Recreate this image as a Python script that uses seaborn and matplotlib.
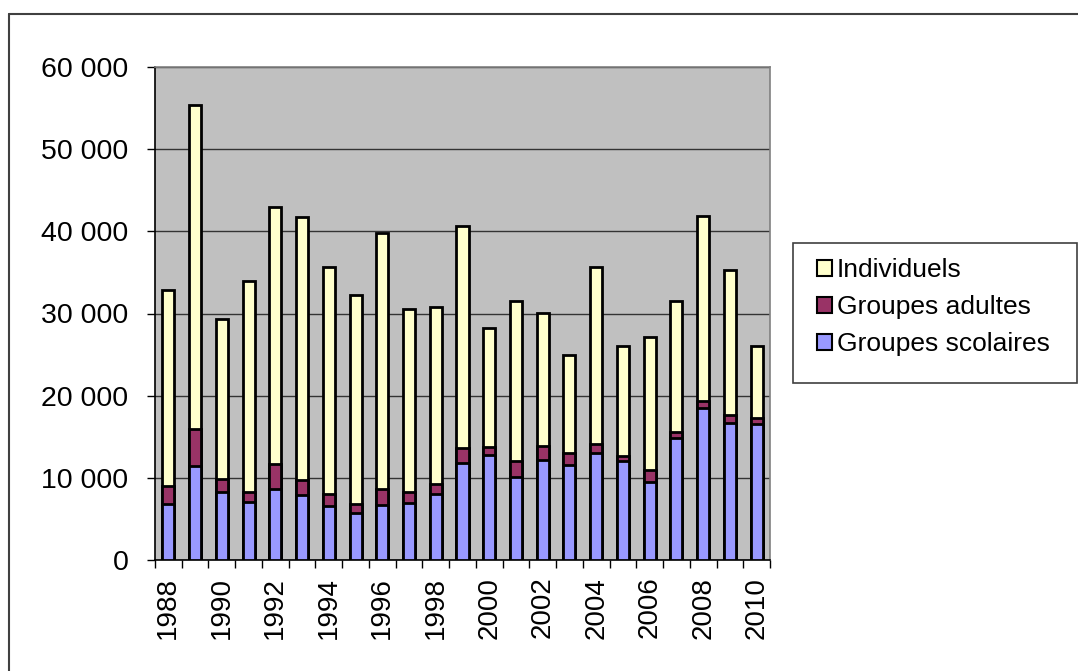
import seaborn as sns
import matplotlib.pyplot as plt
import matplotlib.ticker as mticker
import numpy as np
import pandas as pd

years = [str(y) for y in range(1988, 2011)]

scolaires = [6800, 11400, 8300, 7000, 8700, 7900, 6600, 5700, 6700, 6900, 8000, 11800,
             12800, 10100, 12200, 11600, 13000, 12000, 9500, 14800, 18500, 16700, 16600]
adultes = [2200, 4600, 1600, 1300, 3000, 1800, 1400, 1100, 1900, 1400, 1200, 1800,
           900, 1900, 1700, 1400, 1100, 600, 1500, 800, 800, 1000, 700]
individuels = [23900, 39400, 19400, 25700, 31300, 32100, 27600, 25500, 31200, 22200, 21600, 27100,
               14500, 19500, 16200, 12000, 21600, 13500, 16200, 15900, 22600, 17600, 8700]

df = pd.DataFrame({'annee': years, 'scolaires': scolaires,
                   'adultes': adultes, 'individuels': individuels})
df['cum_adultes'] = df['scolaires'] + df['adultes']
df['cum_total'] = df['cum_adultes'] + df['individuels']

sns.set_style('ticks')
plt.rcParams['font.family'] = ['Liberation Sans', 'DejaVu Sans']
plt.rcParams['text.color'] = 'black'
plt.rcParams['xtick.color'] = 'black'
plt.rcParams['ytick.color'] = 'black'

fig = plt.figure(figsize=(10.78, 6.71), dpi=100)
ax = fig.add_axes([155 / 1078, 1 - 560 / 671, 615 / 1078, 493 / 671])
ax.set_facecolor('#C0C0C0')

bar_kw = dict(edgecolor='black', linewidth=2, width=0.45, ax=ax, zorder=3, order=years)
sns.barplot(data=df, x='annee', y='cum_total', color='#FFFFCC', label='Individuels', **bar_kw)
sns.barplot(data=df, x='annee', y='cum_adultes', color='#993366', label='Groupes adultes', **bar_kw)
sns.barplot(data=df, x='annee', y='scolaires', color='#9999FF', label='Groupes scolaires', **bar_kw)
if ax.get_legend() is not None:
    ax.get_legend().remove()

# seaborn desaturates the fill a bit, put the exact colours back
for cont, col in zip(ax.containers, ['#FFFFCC', '#993366', '#9999FF']):
    for p in cont:
        p.set_facecolor(col)

ax.set_ylim(0, 60000)
ax.set_xlim(-0.5, len(years) - 0.5)
ax.yaxis.set_major_locator(mticker.MultipleLocator(10000))
ax.yaxis.set_major_formatter(mticker.FuncFormatter(lambda v, p: f'{int(v):,}'.replace(',', ' ')))
ax.grid(axis='y', which='major', color='#333333', linewidth=1, zorder=1)
ax.set_axisbelow(True)

# labels every two years, tick marks between categories
ax.xaxis.set_major_locator(mticker.FixedLocator(np.arange(0, len(years), 2)))
ax.xaxis.set_major_formatter(mticker.FixedFormatter(years[::2]))
ax.xaxis.set_minor_locator(mticker.FixedLocator(np.arange(-0.5, len(years), 1)))
ax.tick_params(axis='x', which='major', length=0, pad=12, labelsize=20,
               labelrotation=90, labelcolor='black')
ax.tick_params(axis='x', which='minor', length=6, width=1, color='black')
ax.tick_params(axis='y', length=6, width=1, color='black', pad=13, labelsize=20.5, labelcolor='black')

ax.set_xlabel('')
ax.set_ylabel('')
for s in ['left', 'bottom']:
    ax.spines[s].set_color('black')
    ax.spines[s].set_linewidth(1.2)
for s in ['top', 'right']:
    ax.spines[s].set_color('#808080')
    ax.spines[s].set_linewidth(1.2)

# legend box drawn separately, entries placed inside it
handles, labels = ax.get_legend_handles_labels()
fig.add_artist(plt.Rectangle((793 / 1078, 1 - 383 / 671), 284 / 1078, 140 / 671,
                             transform=fig.transFigure, facecolor='white',
                             edgecolor='#404040', linewidth=1.2, zorder=5))
leg = fig.legend(handles, labels, loc='upper left', bbox_to_anchor=(817 / 1078, 1 - 258 / 671),
                 bbox_transform=fig.transFigure, fontsize=19, frameon=False,
                 handlelength=0.55, handleheight=0.55, handletextpad=0.2,
                 labelspacing=0.5, borderpad=0, borderaxespad=0)
leg.set_zorder(6)
for t in leg.get_texts():
    t.set_color('black')
for h in leg.legend_handles:
    h.set_edgecolor('black')
    h.set_linewidth(1.5)

# outer chart border (partly cut off on the right and bottom)
fig.add_artist(plt.Line2D([9 / 1078, 1], [1 - 13.5 / 671, 1 - 13.5 / 671],
                          transform=fig.transFigure, color='#404040', linewidth=1.5))
fig.add_artist(plt.Line2D([9 / 1078, 9 / 1078], [0, 1 - 13.5 / 671],
                          transform=fig.transFigure, color='#404040', linewidth=1.5))

fig.savefig('out.png', dpi=100)
